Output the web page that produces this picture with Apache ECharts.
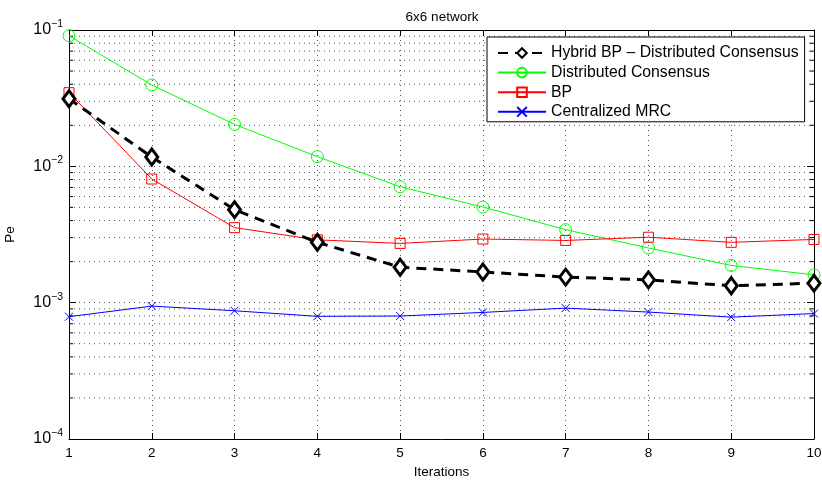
<!DOCTYPE html>
<html><head><meta charset="utf-8">
<script src="https://cdn.jsdelivr.net/npm/echarts@6/dist/echarts.min.js"></script>
<style>html,body{margin:0;padding:0;background:#fff}#c{width:822px;height:482px}</style>
</head><body><div id="c"></div>
<script>
const iterations = [1,2,3,4,5,6,7,8,9,10];
const hybrid = [0.0313,0.0117,0.00481,0.00277,0.00182,0.00168,0.00154,0.00147,0.00133,0.00139];
const distCons = [0.0908,0.0395,0.0203,0.01178,0.00708,0.00503,0.00343,0.00252,0.001875,0.0016];
const bp = [0.0347,0.00807,0.00355,0.00289,0.00272,0.00293,0.00286,0.00302,0.00277,0.00291];
const mrc = [0.000789,0.000944,0.000872,0.000794,0.000798,0.000848,0.000912,0.000853,0.000783,0.000832];
const names = ['Hybrid BP \u2013 Distributed Consensus','Distributed Consensus','BP','Centralized MRC'];
const minorVals = [];
[1e-4,1e-3,1e-2].forEach(d=>{for(let k=2;k<=9;k++) minorVals.push(+(d*k).toPrecision(3));});

const font = 'Liberation Sans, Arial, Helvetica, sans-serif';
const pair = arr => arr.map((v,i)=>[iterations[i], v]);
const dotted = {color:'#555', type:[1,4], width:1};

const chart = echarts.init(document.getElementById('c'));
chart.setOption({
  animation:false,
  backgroundColor:'#fff',
  textStyle:{fontFamily:font},
  title:{text:'6x6 network', left:437, top:5, textAlign:'center',
    textStyle:{fontFamily:font,fontSize:13.5,fontWeight:'normal',color:'#000'}},
  grid:{left:69,right:8,top:30,bottom:43,show:false,containLabel:false,outerBoundsMode:'none'},
  legend:{
    data:names, orient:'vertical', left:487, top:37,
    itemWidth:48, itemHeight:12, itemGap:3.6,
    backgroundColor:'#fff', borderColor:'#000', borderWidth:1,
    padding:[8,6,2,10],
    textStyle:{fontFamily:font,fontSize:15.8,color:'#000', padding:[0,0,0,0]}
  },
  xAxis:[{
    type:'value', min:1, max:10, interval:1, position:'bottom',
    name:'Iterations', nameLocation:'middle', nameGap:24,
    nameTextStyle:{fontFamily:font,fontSize:13.5,color:'#000'},
    axisLine:{lineStyle:{color:'#000'}},
    axisTick:{inside:true,length:6,lineStyle:{color:'#000'}},
    axisLabel:{fontFamily:font,fontSize:13.5,color:'#000',margin:7},
    splitLine:{show:true,lineStyle:dotted}
  },{
    type:'value', min:1, max:10, interval:1, position:'top',
    axisLine:{lineStyle:{color:'#000'}},
    axisTick:{inside:true,length:6,lineStyle:{color:'#000'}},
    axisLabel:{show:false}, splitLine:{show:false}
  }],
  yAxis:[{
    type:'log', logBase:10, min:1e-4, max:1e-1, position:'left',
    name:'Pe', nameLocation:'middle', nameGap:52, nameRotate:90,
    nameTextStyle:{fontFamily:font,fontSize:13.5,color:'#000'},
    axisLine:{show:true,lineStyle:{color:'#000'}},
    axisTick:{show:true,inside:true,length:7,lineStyle:{color:'#000'}},
    axisLabel:{
      margin:6,
      formatter:v=>{const e=Math.round(Math.log10(v)); return '{b|10}{s|\u2212'+Math.abs(e)+'}';},
      rich:{b:{fontFamily:font,fontSize:16,color:'#000'},
            s:{fontFamily:font,fontSize:10.5,color:'#000',verticalAlign:'top',padding:[0,0,12,0]}}
    },
    splitLine:{show:true,lineStyle:dotted}
  },{
    type:'log', logBase:10, min:1e-4, max:1e-1, position:'right',
    axisLine:{show:true,lineStyle:{color:'#000'}},
    axisTick:{show:true,inside:true,length:7,lineStyle:{color:'#000'}},
    axisLabel:{show:false}, splitLine:{show:false}
  }],
  series:[
    {
      type:'custom', silent:true, z:1,
      data:minorVals.map(v=>[1,v]),
      renderItem:(params,api)=>{
        const v = api.value(1);
        const p1 = api.coord([1,v]), p2 = api.coord([10,v]);
        return {type:'group', children:[
          {type:'line', shape:{x1:p1[0],y1:p1[1],x2:p2[0],y2:p2[1]},
           style:{stroke:'#555',lineWidth:1,lineDash:[1,4]}},
          {type:'line', shape:{x1:p1[0],y1:p1[1],x2:p1[0]+4,y2:p1[1]},
           style:{stroke:'#000',lineWidth:1}},
          {type:'line', shape:{x1:p2[0]-4,y1:p2[1],x2:p2[0],y2:p2[1]},
           style:{stroke:'#000',lineWidth:1}}
        ]};
      }
    },
    {
      name:names[0], type:'line', data:pair(hybrid), z:5,
      symbol:'diamond', symbolSize:[12,16],
      lineStyle:{color:'#000',width:3,type:[10,7]},
      itemStyle:{color:'#fff',borderColor:'#000',borderWidth:3}
    },
    {
      name:names[1], type:'line', data:pair(distCons), z:4,
      symbol:'circle', symbolSize:12,
      lineStyle:{color:'#00ff00',width:1},
      itemStyle:{color:'none',borderColor:'#00ff00',borderWidth:1}
    },
    {
      name:names[2], type:'line', data:pair(bp), z:4,
      symbol:'rect', symbolSize:10,
      lineStyle:{color:'#ff0000',width:1},
      itemStyle:{color:'none',borderColor:'#ff0000',borderWidth:1}
    },
    {
      name:names[3], type:'line', data:pair(mrc), z:4,
      symbol:'path://M0,0L10,10M10,0L0,10', symbolSize:8,
      lineStyle:{color:'#0000ff',width:1},
      itemStyle:{color:'none',borderColor:'#0000ff',borderWidth:1}
    }
  ]
});
</script></body></html>
